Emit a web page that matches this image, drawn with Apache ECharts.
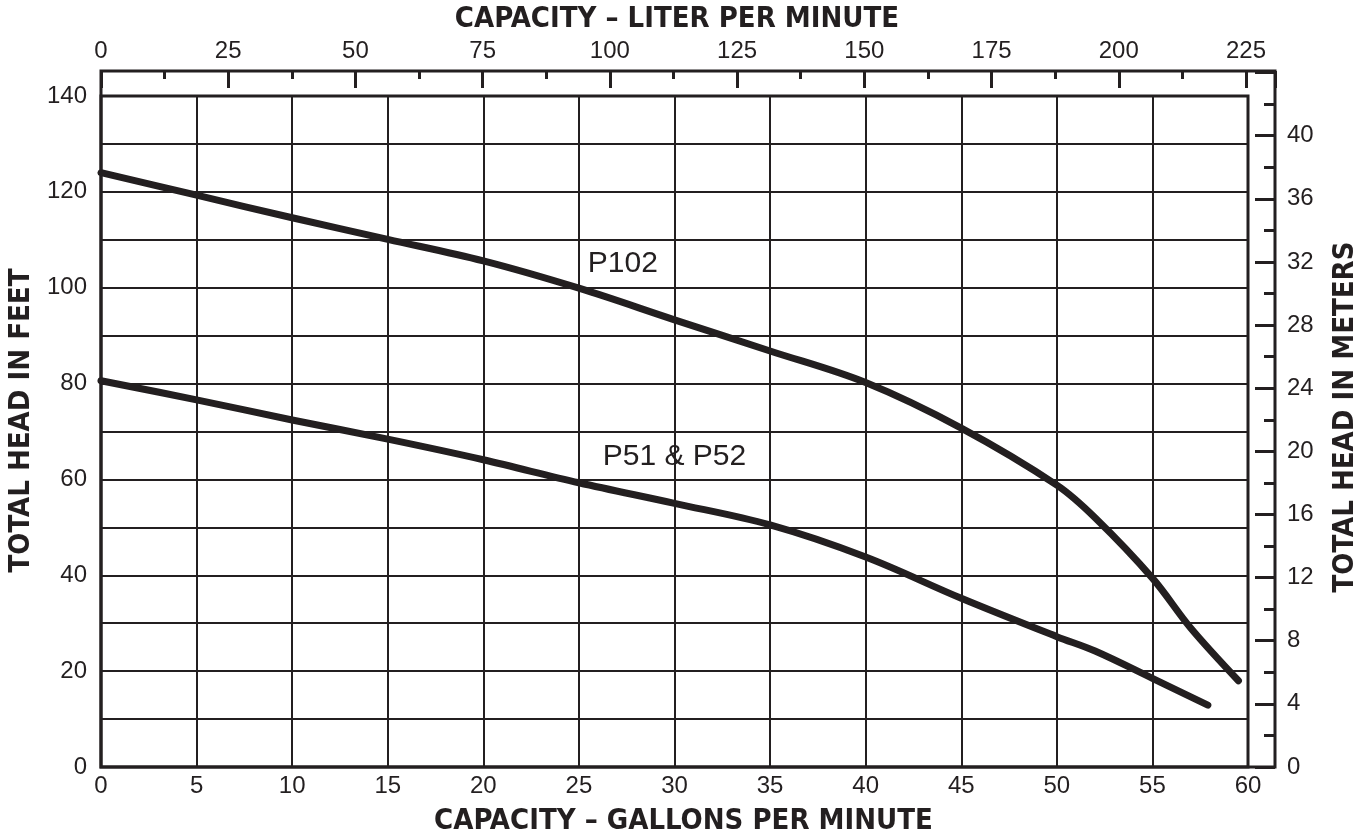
<!DOCTYPE html>
<html>
<head>
<meta charset="utf-8">
<script src="https://cdn.jsdelivr.net/npm/echarts@6/dist/echarts.min.js"></script>
<style>
  html, body { margin: 0; padding: 0; background: #fff; }
  #chart { width: 1370px; height: 839px; }
</style>
</head>
<body>
<div id="chart"></div>
<script>
  // pump curves (gpm vs feet of head)
  const p102Gpm = [0, 5, 10, 15, 20, 25, 30, 35, 40, 45, 50, 52, 55, 57, 59.5];
  const p102Head = [124, 119.3, 114.6, 110.1, 105.6, 99.9, 93.3, 86.8, 80.2, 70.7, 58.8, 52, 39.4, 29, 18];
  const p51Gpm = [0, 5, 10, 15, 20, 25, 30, 35, 40, 45, 50, 52, 55, 57.9];
  const p51Head = [80.6, 76.6, 72.4, 68.4, 64.1, 59.3, 55.0, 50.5, 43.8, 35.2, 27.2, 24.2, 18.5, 12.9];

  const seriesNames = ["P102", "P51 & P52"];

  const ink = "#231f20";
  const labelFont = "'Liberation Sans', Arial, sans-serif";
  const titleFont = "'Liberation Sans Narrow', 'DejaVu Sans Condensed', 'Liberation Sans', sans-serif";

  const chart = echarts.init(document.getElementById("chart"));

  function pairs(xs, ys) {
    return xs.map((x, i) => [x, ys[i]]);
  }

  const tickLabel = { color: ink, fontFamily: labelFont, fontSize: 24 };
  function titleStyle(padding) {
    return { color: ink, fontFamily: titleFont, fontSize: 29, fontWeight: "bold", padding: padding };
  }
  const noLine = { show: false, onZero: false };

  chart.setOption({
    animation: false,
    backgroundColor: "#fff",
    grid: [
      // main plot, feet vs gpm
      { left: 101, top: 96, width: 1147, height: 671, outerBoundsMode: "none", show: true, borderColor: ink, borderWidth: 3, backgroundColor: "transparent" },
      // outer frame carrying litres and metres
      { left: 101, top: 71, width: 1174, height: 696, outerBoundsMode: "none", show: true, borderColor: ink, borderWidth: 3, backgroundColor: "transparent" }
    ],
    xAxis: [
      {
        gridIndex: 0, type: "value", position: "bottom",
        min: 0, max: 60, interval: 5,
        axisLine: noLine, axisTick: { show: false },
        axisLabel: Object.assign({ margin: 7 }, tickLabel),
        splitLine: { show: true, lineStyle: { color: ink, width: 2 } },
        name: "CAPACITY – GALLONS PER MINUTE", nameLocation: "middle", nameGap: 40,
        nameTextStyle: titleStyle([0, 0, 0, 18])
      },
      {
        gridIndex: 1, type: "value", position: "top",
        min: 0, max: 230.7, interval: 25,
        axisLine: noLine,
        axisTick: { show: true, inside: true, length: 17, lineStyle: { color: ink, width: 3 } },
        minorTick: { show: true, splitNumber: 2, length: 8, lineStyle: { color: ink, width: 3 } },
        axisLabel: Object.assign({ margin: 8, formatter: (v) => (v <= 225 ? String(v) : "") }, tickLabel),
        splitLine: { show: false },
        name: "CAPACITY – LITER PER MINUTE", nameLocation: "middle", nameGap: 37,
        nameTextStyle: titleStyle([0, 22, 0, 0])
      }
    ],
    yAxis: [
      {
        gridIndex: 0, type: "value", position: "left",
        min: 0, max: 140, interval: 10,
        axisLine: noLine, axisTick: { show: false },
        axisLabel: Object.assign({ margin: 14, formatter: (v) => (v % 20 === 0 ? String(v) : "") }, tickLabel),
        splitLine: { show: true, lineStyle: { color: ink, width: 2 } },
        name: "TOTAL HEAD IN FEET", nameLocation: "middle", nameGap: 53,
        nameTextStyle: titleStyle([0, 0, 0, 22])
      },
      {
        gridIndex: 1, type: "value", position: "right",
        min: 0, max: 44.1, interval: 4,
        axisLine: noLine,
        axisTick: { show: true, inside: true, length: 20, lineStyle: { color: ink, width: 3 } },
        minorTick: { show: true, splitNumber: 2, length: 11, lineStyle: { color: ink, width: 3 } },
        axisLabel: Object.assign({ margin: 12, formatter: (v) => (v <= 40 ? String(v) : "") }, tickLabel),
        splitLine: { show: false },
        name: "TOTAL HEAD IN METERS", nameLocation: "middle", nameGap: 56,
        nameTextStyle: titleStyle([0, 0, 0, 4])
      }
    ],
    series: [
      {
        name: seriesNames[0], type: "line", xAxisIndex: 0, yAxisIndex: 0,
        data: pairs(p102Gpm, p102Head),
        smooth: 0.35, showSymbol: false, z: 5,
        lineStyle: { color: ink, width: 7, cap: "round", join: "round" },
        markPoint: {
          symbolSize: 0,
          label: { show: true, position: "inside", formatter: "{b}", color: ink, fontFamily: labelFont, fontSize: 30 },
          data: [{ name: seriesNames[0], coord: [27.3, 104.9] }]
        }
      },
      {
        name: seriesNames[1], type: "line", xAxisIndex: 0, yAxisIndex: 0,
        data: pairs(p51Gpm, p51Head),
        smooth: 0.35, showSymbol: false, z: 5,
        lineStyle: { color: ink, width: 7, cap: "round", join: "round" },
        markPoint: {
          symbolSize: 0,
          label: { show: true, position: "inside", formatter: "{b}", color: ink, fontFamily: labelFont, fontSize: 30 },
          data: [{ name: seriesNames[1], coord: [30.0, 64.7] }]
        }
      }
    ]
  });

  window.addEventListener("resize", function () {
    chart.resize();
  });
</script>
</body>
</html>
